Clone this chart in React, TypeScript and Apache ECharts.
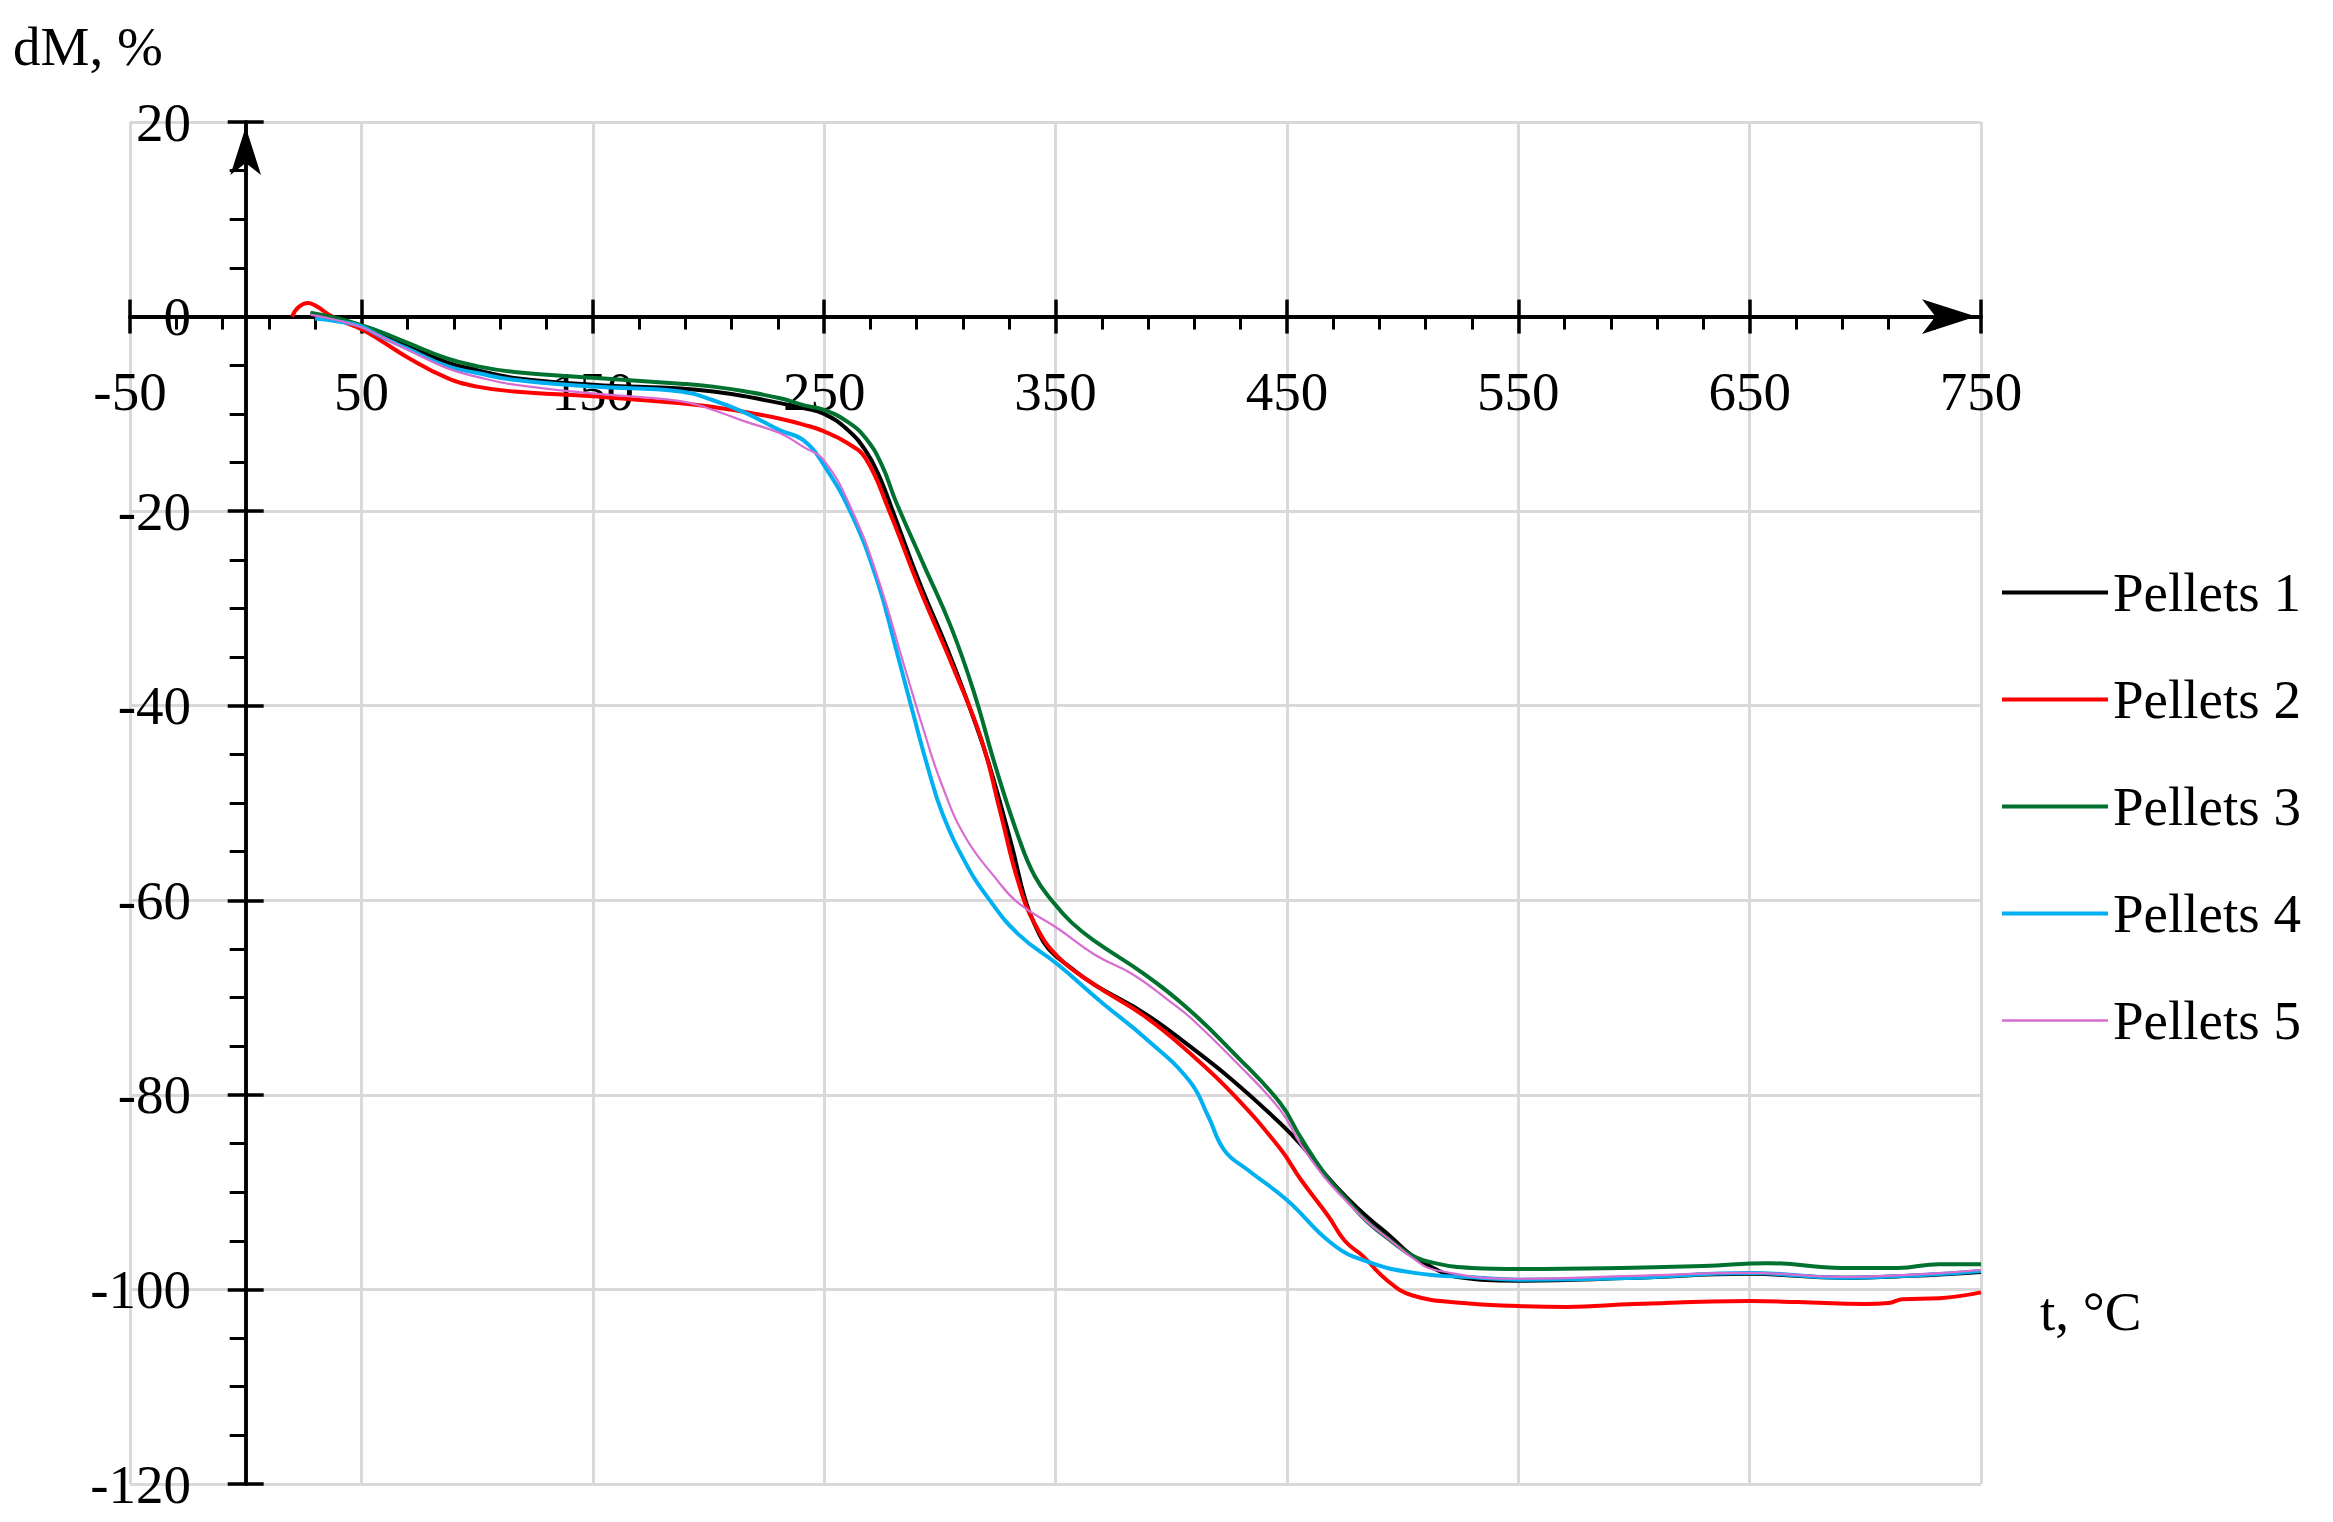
import React, { useEffect, useRef } from "react";
import * as echarts from "echarts";

const FONT = '"Liberation Serif", "Times New Roman", serif';
const FONT_SIZE = 55;

const seriesNames = ["Pellets 1", "Pellets 2", "Pellets 3", "Pellets 4", "Pellets 5"];
const seriesColors = ["#000000", "#ff0000", "#00712f", "#00b0f0", "#d86cd0"];
const seriesWidths = [4, 4, 4, 4, 2.2];

// X axis tick values (°C)
const xMajorTicks = [-50, 50, 150, 250, 350, 450, 550, 650, 750];
const xMinorTicks = [
  -30, -10, 10, 30, 70, 90, 110, 130, 170, 190, 210, 230, 270, 290, 310, 330,
  370, 390, 410, 430, 470, 490, 510, 530, 570, 590, 610, 630, 670, 690, 710, 730,
];

// Pellets 1 (black)
const p1T = [28, 40, 50, 58, 70, 87, 100, 116, 150, 188, 202, 216, 231, 241, 250, 260, 268, 274, 280, 291, 304, 314, 321, 331, 337, 342, 347, 357, 367, 389, 408, 427, 447, 456, 466, 476, 485, 495, 504, 515, 523, 550, 600, 650, 690, 720, 750];
const p1M = [0.3, -0.3, -1.0, -1.8, -3.0, -4.7, -5.5, -6.3, -7.0, -7.4, -7.7, -8.2, -8.9, -9.4, -10.0, -11.6, -13.8, -16.5, -20.2, -27.2, -34.6, -40.9, -45.8, -54.3, -60.0, -63.0, -65.0, -67.0, -68.7, -71.7, -75.0, -78.6, -82.9, -85.1, -88.0, -90.6, -92.6, -94.6, -96.5, -98.0, -98.7, -99.1, -98.8, -98.4, -98.8, -98.6, -98.2];

// Pellets 2 (red)
const p2T = [20, 23, 27, 31, 36, 42, 50, 58, 70, 87, 100, 116, 150, 188, 202, 216, 231, 241, 250, 260, 268, 278, 291, 306, 318, 326, 334, 341, 351, 367, 389, 408, 427, 447, 456, 468, 475, 483, 493, 504, 526, 550, 571, 600, 650, 671, 700, 710, 716, 732, 750];
const p2M = [0, 1.0, 1.4, 1.0, 0.2, -0.5, -1.3, -2.4, -4.2, -6.3, -7.2, -7.7, -8.2, -8.9, -9.3, -9.8, -10.5, -11.1, -11.8, -13.0, -14.6, -19.9, -27.8, -36.2, -43.5, -50.8, -58.2, -62.4, -65.8, -68.7, -72.0, -75.7, -80.0, -85.5, -88.7, -92.5, -95.0, -96.6, -99.0, -100.6, -101.4, -101.7, -101.8, -101.5, -101.2, -101.3, -101.5, -101.4, -101.0, -100.9, -100.3];

// Pellets 3 (green)
const p3T = [28, 40, 50, 58, 70, 87, 100, 116, 150, 188, 202, 216, 231, 241, 250, 260, 268, 275, 281, 293, 305, 315, 324, 334, 341, 349, 357, 367, 389, 408, 427, 447, 456, 466, 476, 485, 495, 504, 514, 530, 550, 594, 630, 658, 690, 714, 732, 750];
const p3M = [0.4, -0.2, -0.9, -1.55, -2.7, -4.3, -5.1, -5.7, -6.3, -6.9, -7.2, -7.7, -8.4, -9.1, -9.6, -10.8, -12.5, -15.3, -19.0, -25.5, -32.0, -38.8, -46.2, -53.5, -57.5, -60.2, -62.3, -64.2, -67.7, -71.3, -75.7, -80.8, -84.4, -88.0, -90.8, -93.1, -95.0, -96.5, -97.3, -97.8, -97.9, -97.8, -97.6, -97.3, -97.8, -97.8, -97.4, -97.4];

// Pellets 4 (blue)
const p4T = [30, 40, 50, 58, 70, 87, 100, 116, 150, 188, 202, 216, 231, 241, 250, 262, 273, 281, 288, 295, 301, 311, 321, 334, 351, 370, 389, 408, 416, 423, 433, 450, 469, 483, 505, 533, 550, 600, 650, 690, 750];
const p4M = [-0.2, -0.5, -1.0, -2.0, -3.3, -5.1, -5.8, -6.5, -7.2, -7.7, -8.6, -9.9, -11.7, -12.7, -15.3, -20.4, -27.2, -34.1, -40.4, -46.5, -51.0, -56.1, -59.8, -63.5, -66.6, -70.5, -74.2, -78.6, -82.2, -85.7, -87.7, -90.8, -95.2, -97.0, -98.3, -98.8, -99.0, -98.8, -98.3, -98.8, -98.1];

// Pellets 5 (pink)
const p5T = [28, 40, 50, 58, 70, 87, 100, 116, 150, 188, 202, 216, 231, 241, 250, 262, 273, 285, 293, 301, 311, 324, 334, 351, 367, 384, 400, 408, 427, 447, 456, 466, 476, 485, 495, 504, 514, 550, 600, 650, 690, 750];
const p5M = [0.2, -0.4, -1.1, -2.0, -3.4, -5.3, -6.2, -7.0, -7.9, -8.7, -9.6, -10.8, -12.0, -13.4, -14.8, -19.9, -26.7, -36.2, -42.5, -48.2, -53.5, -57.7, -60.3, -62.9, -65.6, -67.7, -70.5, -72.0, -76.4, -81.5, -85.1, -88.4, -91.0, -93.1, -95.0, -96.7, -98.0, -98.9, -98.6, -98.3, -98.7, -98.0];

const seriesT = [p1T, p2T, p3T, p4T, p5T];
const seriesM = [p1M, p2M, p3M, p4M, p5M];

const AXIS_COLOR = "#000";
const GRID_COLOR = "#d9d9d9";

// layout (px)
const GRID_LEFT = 130;
const GRID_RIGHT = 352;
const GRID_TOP = 122;
const GRID_BOTTOM = 38;
const CHART_W = 2333;
const CHART_H = 1522;
const ZERO_Y = 316; // pixel row of dM = 0
const ZERO_X = 246; // pixel column of t = 0

export default function App() {
  const ref = useRef<HTMLDivElement | null>(null);

  useEffect(() => {
    document.body.style.margin = "0";
    document.body.style.overflow = "hidden";
    if (!ref.current) return;
    const chart = echarts.init(ref.current, undefined, { renderer: "svg" });

    const tickLine = { color: AXIS_COLOR, width: 3.5 };
    const gridBottomPx = CHART_H - GRID_BOTTOM;
    // labels are laid out from the grid edge; shift them to sit next to the zero-crossing axis lines
    const xLabelMargin = -(gridBottomPx - ZERO_Y) + 48;
    const yLabelMargin = -(ZERO_X - GRID_LEFT) + 55;

    const option: any = {
      animation: false,
      backgroundColor: "#ffffff",
      grid: {
        left: GRID_LEFT,
        right: GRID_RIGHT,
        top: GRID_TOP,
        bottom: GRID_BOTTOM,
        containLabel: false,
        outerBoundsMode: "none",
      },
      xAxis: [
        {
          type: "value",
          min: -50,
          max: 750,
          position: "bottom",
          axisLine: {
            show: true,
            onZero: true,
            onZeroAxisIndex: 0,
            symbol: ["none", "arrow"],
            symbolSize: [26, 54],
            symbolOffset: [0, -5],
            lineStyle: tickLine,
          },
          axisTick: { show: true, inside: false, length: 17, customValues: xMajorTicks, lineStyle: tickLine },
          axisLabel: {
            show: true,
            customValues: xMajorTicks,
            margin: xLabelMargin,
            color: "#000",
            fontSize: FONT_SIZE,
            fontFamily: FONT,
            hideOverlap: false,
          },
          splitLine: { show: true, lineStyle: { color: GRID_COLOR, width: 3 } },
          minorTick: { show: false },
        },
        {
          type: "value",
          min: -50,
          max: 750,
          position: "bottom",
          axisLine: { show: true, onZero: true, onZeroAxisIndex: 0, lineStyle: tickLine },
          axisTick: { show: true, inside: true, length: 17, customValues: xMajorTicks, lineStyle: tickLine },
          axisLabel: { show: false },
          splitLine: { show: false },
        },
        {
          type: "value",
          min: -50,
          max: 750,
          position: "bottom",
          axisLine: { show: true, onZero: true, onZeroAxisIndex: 0, lineStyle: tickLine },
          axisTick: { show: true, inside: false, length: 13, customValues: xMinorTicks, lineStyle: { color: AXIS_COLOR, width: 3 } },
          axisLabel: { show: false },
          splitLine: { show: false },
        },
      ],
      yAxis: [
        {
          type: "value",
          min: -120,
          max: 20,
          interval: 20,
          position: "left",
          axisLine: {
            show: true,
            onZero: true,
            onZeroAxisIndex: 0,
            symbol: ["none", "arrow"],
            symbolSize: [23, 48],
            symbolOffset: [0, -5],
            lineStyle: tickLine,
          },
          axisTick: { show: true, inside: false, length: 18, lineStyle: tickLine },
          minorTick: { show: true, splitNumber: 4, length: 16, lineStyle: { color: AXIS_COLOR, width: 3 } },
          axisLabel: {
            show: true,
            margin: yLabelMargin,
            color: "#000",
            fontSize: FONT_SIZE,
            fontFamily: FONT,
            hideOverlap: false,
          },
          splitLine: { show: true, lineStyle: { color: GRID_COLOR, width: 3 } },
        },
        {
          type: "value",
          min: -120,
          max: 20,
          interval: 20,
          position: "left",
          axisLine: { show: true, onZero: true, onZeroAxisIndex: 0, lineStyle: tickLine },
          axisTick: { show: true, inside: true, length: 18, lineStyle: tickLine },
          axisLabel: { show: false },
          splitLine: { show: false },
        },
      ],
      legend: {
        orient: "vertical",
        left: 1997,
        top: 560,
        itemWidth: 106,
        itemHeight: 4,
        itemGap: 52,
        symbolKeepAspect: true,
        textStyle: { fontSize: FONT_SIZE, fontFamily: FONT, color: "#000" },
        data: seriesNames.map((name, i) => ({
          name,
          icon: i === 4 ? "path://M0,0H106V2.5H0Z" : "path://M0,0H106V4H0Z",
        })),
      },
      graphic: [
        {
          type: "text",
          x: 13,
          y: 46,
          style: { text: "dM, %", fontSize: FONT_SIZE, fontFamily: FONT, fill: "#000", align: "left", verticalAlign: "middle" },
        },
        {
          type: "text",
          x: 2040,
          y: 1311,
          style: { text: "t, °C", fontSize: FONT_SIZE, fontFamily: FONT, fill: "#000", align: "left", verticalAlign: "middle" },
        },
      ],
      series: seriesNames.map((name, i) => ({
        name,
        type: "line",
        xAxisIndex: 0,
        yAxisIndex: 0,
        data: seriesT[i].map((t, k) => [t, seriesM[i][k]]),
        symbol: "none",
        showSymbol: false,
        smooth: 0.45,
        lineStyle: { color: seriesColors[i], width: seriesWidths[i] },
        itemStyle: { color: seriesColors[i] },
        z: 3,
      })),
    };

    chart.setOption(option);
    return () => {
      chart.dispose();
    };
  }, []);

  return (
    <div
      ref={ref}
      style={{ position: "absolute", left: 0, top: 0, width: CHART_W, height: CHART_H, background: "#fff" }}
    />
  );
}
